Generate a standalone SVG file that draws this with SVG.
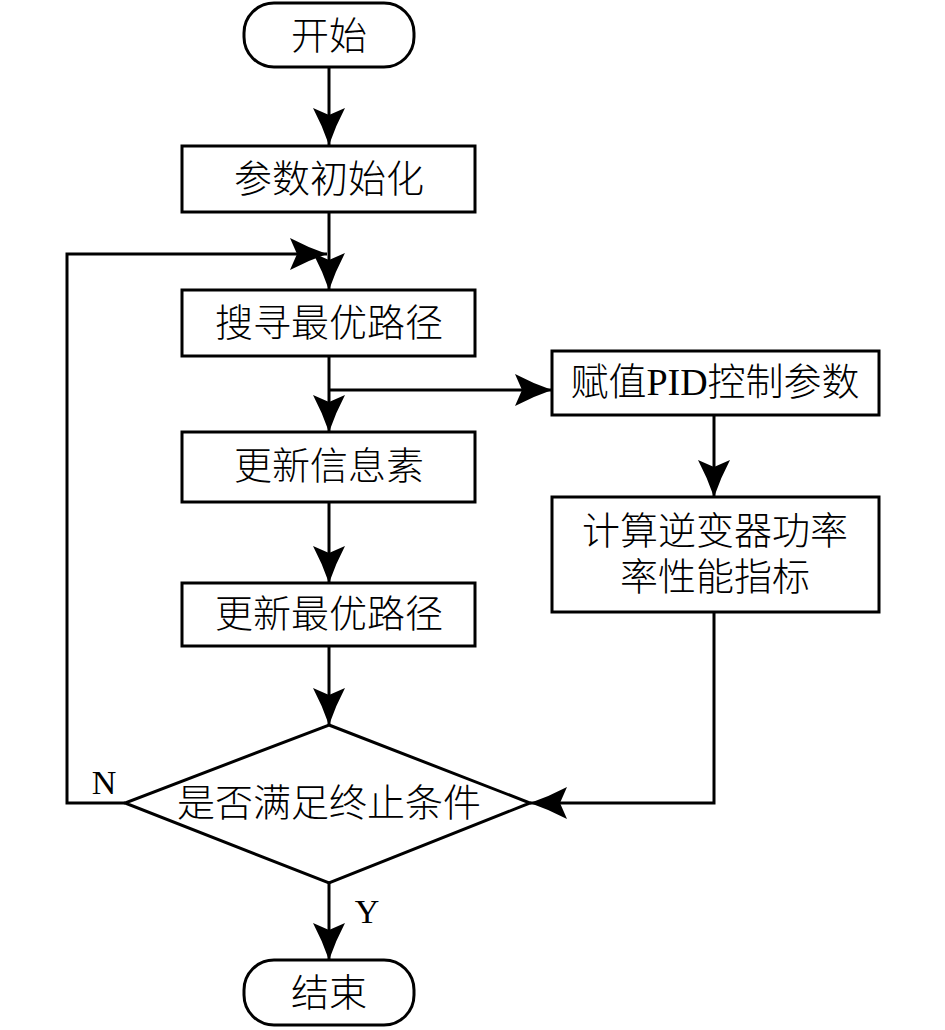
<svg xmlns="http://www.w3.org/2000/svg" width="945" height="1030" viewBox="0 0 945 1030">
<style>
.n{fill:#fff;stroke:#000;stroke-width:3}
.c{fill:none;stroke:#000;stroke-width:3}
.t{font-family:"Liberation Serif","Noto Sans CJK SC",serif;font-size:38px;font-weight:300;fill:#000;text-anchor:middle;dominant-baseline:central}
.l{font-family:"Liberation Serif",serif;font-size:34px;fill:#000;text-anchor:middle}
</style>
<defs>
<marker id="a" markerUnits="userSpaceOnUse" markerWidth="40" markerHeight="36" viewBox="-38 -18 40 36" refX="0" refY="0" orient="auto" overflow="visible">
<path d="M0,0 Q-19,-6.5 -37,-16 L-30,0 L-37,16 Q-19,6.5 0,0 Z" fill="#000"/>
</marker>
</defs>
<rect width="945" height="1030" fill="#fff"/>
<g id="connectors">
<line class="c" x1="329" y1="67" x2="329" y2="145" marker-end="url(#a)"/>
<line class="c" x1="329" y1="212" x2="329" y2="290" marker-end="url(#a)"/>
<polyline class="c" points="125,803 67,803 67,254 327,254" marker-end="url(#a)"/>
<line class="c" x1="329" y1="357" x2="329" y2="432" marker-end="url(#a)"/>
<line class="c" x1="329" y1="390" x2="552" y2="390" marker-end="url(#a)"/>
<line class="c" x1="714" y1="415" x2="714" y2="497" marker-end="url(#a)"/>
<line class="c" x1="329" y1="502" x2="329" y2="583" marker-end="url(#a)"/>
<line class="c" x1="329" y1="646" x2="329" y2="725" marker-end="url(#a)"/>
<polyline class="c" points="714,612 714,803 530,803" marker-end="url(#a)"/>
<line class="c" x1="329" y1="883" x2="329" y2="960" marker-end="url(#a)"/>
<text class="l" x="104" y="794">N</text>
<text class="l" x="367" y="923">Y</text>
</g>
<g id="start">
<rect class="n" x="244" y="3" width="170" height="64" rx="30"/>
<text class="t" x="329" y="36">开始</text>
</g>
<g id="init">
<rect class="n" x="182" y="146" width="293" height="66"/>
<text class="t" x="329" y="179">参数初始化</text>
</g>
<g id="search">
<rect class="n" x="182" y="290" width="293" height="66"/>
<text class="t" x="329" y="323">搜寻最优路径</text>
</g>
<g id="assign">
<rect class="n" x="552" y="351" width="327" height="64"/>
<text class="t" x="715" y="382">赋值PID控制参数</text>
</g>
<g id="pheromone">
<rect class="n" x="182" y="432" width="293" height="70"/>
<text class="t" x="329" y="466">更新信息素</text>
</g>
<g id="compute">
<rect class="n" x="552" y="497" width="327" height="115"/>
<text class="t" x="715" y="531">计算逆变器功率</text>
<text class="t" x="715" y="577">率性能指标</text>
</g>
<g id="update">
<rect class="n" x="182" y="583" width="293" height="63"/>
<text class="t" x="329" y="614">更新最优路径</text>
</g>
<g id="decision">
<polygon class="n" points="329,725 530,803 329,883 125,803"/>
<text class="t" x="329" y="803">是否满足终止条件</text>
</g>
<g id="end">
<rect class="n" x="244" y="960" width="170" height="65" rx="30"/>
<text class="t" x="329" y="993">结束</text>
</g>
</svg>
